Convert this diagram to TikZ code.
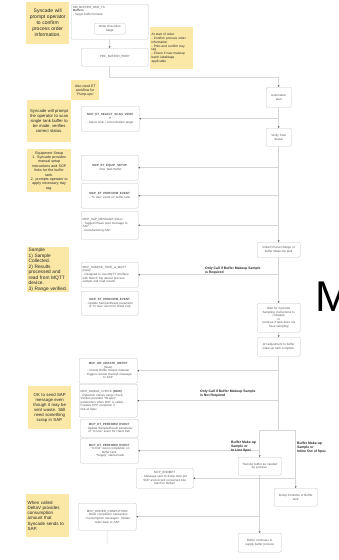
\documentclass[tikz,border=0pt]{standalone}
\usepackage{fontspec}
\setmainfont{Liberation Sans}
\usetikzlibrary{arrows.meta}
\definecolor{notefill}{HTML}{FBE8A6}
\definecolor{bdr}{HTML}{C4C4C4}
\definecolor{lnc}{HTML}{D6D6D6}
\definecolor{txt}{HTML}{555555}
\newcommand\fsz[2]{\fontsize{#1}{#2}\selectfont}
\tikzset{
  notebox/.style={fill=notefill, draw=none, inner sep=1pt, align=center, text=black!85, anchor=north west},
  box/.style={draw=bdr, rounded corners=1.2pt, fill=white, inner sep=1pt, align=center, text=txt, line width=0.4pt, anchor=north west, font=\fsz{3}{3.6}},
  sz/.code 2 args={\pgfmathsetmacro\tw{#1-3}\edef\next{\noexpand\tikzset{minimum width=#1pt, minimum height=#2pt, text width=\tw pt}}\next},
  ln/.style={draw=lnc, line width=0.45pt},
  arr/.style={ln, -{Stealth[length=1.8pt,width=1.8pt,color=black!65]}},
  lab/.style={font=\fsz{3.4}{3.9}\bfseries, align=left, inner sep=0pt, text=black!85},
}
\begin{document}
\begin{tikzpicture}[x=1pt,y=-1pt]
\useasboundingbox[fill=white] (0,0) rectangle (339,560);

% ---------- yellow notes ----------
\node[notebox, sz={43}{42}, font=\fsz{5}{6}] (N1) at (26,2) {Syncade will\\prompt operator\\to confirm\\process order\\information.};
\node[notebox, sz={28}{20}, font=\fsz{3.4}{4}] (N2) at (71,80) {Also need ET\\workflow for\\`Pump-ups'};
\node[notebox, sz={44}{42}, font=\fsz{4.2}{5}] (N3) at (27,100) {Syncade will prompt\\the operator to scan\\single tank buffer to\\be made, verifies\\correct status.};
\node[notebox, sz={44}{43}, font=\fsz{3.6}{4.4}] (N4) at (27,149) {Equipment Setup\\1. Syncade provides\\manual setup\\instructions and SOP\\links for the buffer\\tank.\\2. prompts operator to\\apply necessary tray\\tag.};
\node[notebox, sz={42}{44}, font=\fsz{4.8}{5.5}, align=left] (N5) at (27,247) {Sample\\1) Sample\\Collected.\\2) Results\\processed and\\read from MQTT\\device.\\3) Range verified.};
\node[notebox, sz={43}{43}, font=\fsz{4.3}{5}] (N6) at (28,386) {OK to send SAP\\message even\\though it may be\\sent waste. Still\\need something\\scrap in SAP.};
\node[notebox, sz={43}{43}, font=\fsz{4.5}{5.3}, align=left] (N7) at (26,494) {When called\\DeltaV provides\\consumption\\amount that\\Syncade sends to\\SAP.};
\node[notebox, sz={43}{42}, font=\fsz{3.2}{3.8}, align=left] (N8) at (150,27) {At start of order:\\- Confirm process order\\information\\- Print and confirm tray\\tag\\- Check if new makeup\\batch label/tape\\applicable};

% ---------- middle column ----------
\node[box, sz={77}{35}] (A) at (71,4) {};
\node[anchor=north west, inner sep=0pt, font=\fsz{3}{3.5}, text=txt, align=left] (At) at (73,6) {MB\_BUFFER\_ONE\_TK\\\textbf{Buffers}\\- Target buffer formula};
\node[box, sz={31}{11}] (A2) at (94,23) {Order Execution\\Stage};
\node[box, sz={67}{18}] (B) at (81,48) {PRC\_BUFFER\_PREP};
\node[box, sz={58}{25}] (C) at (81,106) {\textbf{MCP\_ET\_SELECT\_SCAN\_VERIF}\\\textbf{Y}\\- Select tank / concentration target};
\node[box, sz={57}{25}] (D) at (81,155) {\textbf{MCP\_ET\_EQUIP\_SETUP}\\- One Tank Buffer};
\node[box, sz={57}{25}] (E) at (81,183) {\textbf{MCP\_ET\_PERFORM\_EVENT}\\- ``In Use'' event on buffer tank};
\node[box, sz={57}{28}, align=left] (F) at (81,211) {MCP\_SAP\_MESSAGE (New)\\- Tagged Phase start message to\\SAP\\- manufacturing SAP};
\node[box, sz={57}{25}, align=left] (G) at (81,262) {MCP\_SAMPLE\_TAKE\_w\_MQTT\\(New)\\- Designed to use MQTT interface\\with Bench Top device process\\sample and read results};
\node[box, sz={57}{24}] (H) at (81,291) {\textbf{MCP\_ET\_PERFORM\_EVENT}\\- Update Sample/Result parameter\\of ``In Use'' event for Hand Fab};
\node[box, sz={58}{25}] (I) at (79,358) {\textbf{MCP\_OR\_CREATE\_OBPRT}\\(New)\\- Create Buffer Output material\\- Triggers Goods Receipt message\\to SAP};
\node[box, sz={58}{33}, align=left] (J) at (79,384) {MCP\_RANGE\_CHECK \textbf{(NEW)}\\- Relaunch values range check.\\Verifies provided ``IN-spec''\\parameters when BST is called.\\Creates CPP exception if\\Out-of-Spec};
\node[box, sz={58}{18}] (K) at (80,419) {\textbf{MCP\_ET\_PERFORM\_EVENT}\\- Update Sample/Result parameter\\of ``In Use'' event for Hand Fab};
\node[box, sz={58}{25}] (L) at (80,438) {\textbf{MCP\_ET\_PERFORM\_EVENT}\\- ``In Out'' event completion on\\buffer tank\\- ``Supply'' started tank};
\node[box, sz={57}{20}] (M) at (136,468) {MCP\_ENDMPT\\- Message sent to dump tank per\\SOP and record consumed tote\\batch in DeltaV};
\node[box, sz={58}{27}] (N) at (78,503) {MCP\_ORDER\_COMPLETION\\- Order completion transaction\\- Consumption messages. Initiate\\order back to SAP};

% ---------- right column ----------
\node[box, sz={25}{20}] (R1) at (266,87) {Automation\\start};
\node[box, sz={25}{18}] (R2) at (266,128) {Verify Tank\\Status};
\node[box, sz={43}{15}] (R3) at (257,242) {Initial Fill and change of\\buffer Make-Up tank};
\node[box, sz={43}{29}] (R4) at (257,303) {Wait for Syncade\\Sampling Instructions to\\complete\\or\\continue if tank does not\\have sampling};
\node[box, sz={43}{19}] (R5) at (257,337) {pH adjustment to buffer\\make-up tank complete.};
\node[box, sz={43}{18}] (R6) at (238,457) {Transfer buffer as needed\\by process.};
\node[box, sz={43}{18}] (R7) at (274,488) {Dump Contents of Buffer\\tank};
\node[box, sz={43}{19}] (R8) at (238,533) {Buffer continues to\\supply buffer process};

\node[anchor=north west, inner sep=0pt, font=\fontsize{43}{43}\selectfont] (BigM) at (315,282) {M};

% ---------- connectors ----------
\draw[arr] (A.south) -- (A.south |- B.north);
\draw[arr] (A.south |- B.south) -- ++(0,11) -| (R1.north);
\draw[arr] (R1) -- (R2);
\draw[arr] (R1.south |- C.east) -- (C.east);
\draw[arr] (R2) -- (R3);
\draw[arr] (R2.south |- D.east) -- (D.east);
\draw[arr] (R2.south |- E.east) -- (E.east);
\draw[arr] (R2.south |- F.east) -- (F.east);
\draw[arr] (R3) -- (R4);
\draw[arr] (R3.south |- G.east) -- (G.east);
\draw[arr] (R4) -- (R5);
\coordinate (sp) at (278.5,430);
\draw[ln] (R5.south) -- (R5.south |- sp);
\draw[arr] (R5.south |- I.east) -- (I.east);
\draw[arr] (R5.south |- J.east) -- (J.east);
\draw[ln] (R6.north |- sp) -- (R7.north |- sp);
\draw[arr] (R6.north |- sp) -- (R6.north);
\draw[arr] (R7.north |- sp) -- (R7.north);
\draw[arr] (R6.north |- L.east) -- (L.east);
\draw[arr] (R7.north |- M.east) -- (M.east);
\draw[arr] (R6) -- (R8);
\draw[arr] (R6.south |- N.east) -- (N.east);
\coordinate (Nend) at (107,545);
\draw[ln] (N.south) -- (Nend);

% ---------- labels ----------
\node[lab, anchor=south west] (L1) at (205,274.5) {Only Call if Buffer Makeup Sample\\ is Required};
\node[lab, anchor=south west] (L2) at (200,397) {Only Call if Buffer Makeup Sample\\ is Not Required};
\node[lab, anchor=north west] (L3) at (231,441) {Buffer Make-up\\Sample or\\In Line Spec};
\node[lab, anchor=north west] (L4) at (297,442) {Buffer Make-up\\Sample or\\Inline Out of Spec};
\end{tikzpicture}
\end{document}
